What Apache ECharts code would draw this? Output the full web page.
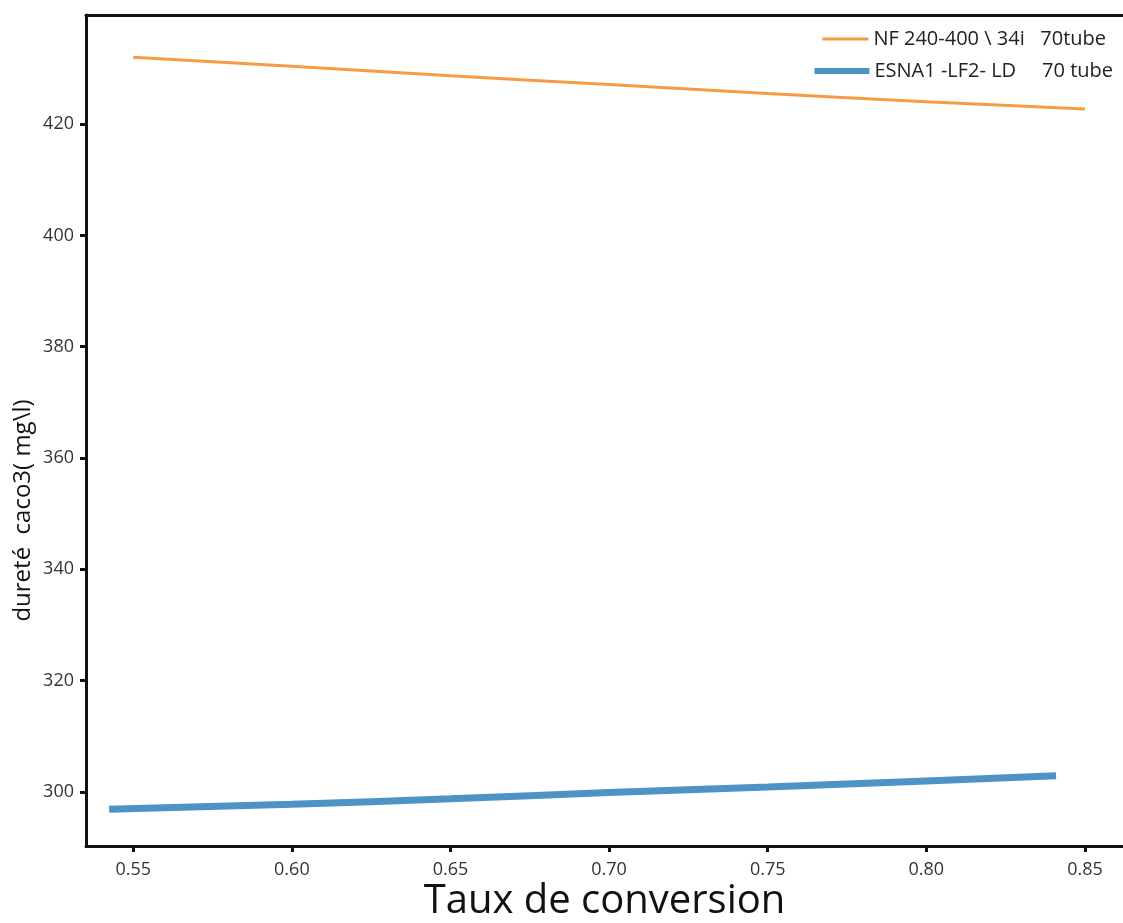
<!DOCTYPE html>
<html>
<head>
<meta charset="utf-8">
<script src="https://cdn.jsdelivr.net/npm/echarts@6/dist/echarts.min.js"></script>
<style>
html,body{margin:0;padding:0;background:#fff;}
#chart{width:1123px;height:923px;}
</style>
</head>
<body>
<div id="chart"></div>
<script>
// Data
const seriesNames = ['NF 240-400 \\ 34i   70tube', 'ESNA1 -LF2- LD     70 tube'];
const nfX = [0.55, 0.60, 0.65, 0.70, 0.75, 0.80, 0.85];
const nfY = [432.0, 430.4, 428.7, 427.1, 425.5, 424.0, 422.7];
const esnaX = [0.5424, 0.60, 0.65, 0.70, 0.75, 0.80, 0.8409];
const esnaY = [296.9, 297.8, 298.8, 299.9, 300.9, 302.0, 302.9];
const xTicks = [0.55, 0.60, 0.65, 0.70, 0.75, 0.80, 0.85];
const yTicks = [300, 320, 340, 360, 380, 400, 420];
const xTitle = 'Taux de conversion';
const yTitle = 'dureté  caco3( mg\\l)';

const font = '"Open Sans", "Noto Sans", sans-serif';
const chart = echarts.init(document.getElementById('chart'), null, {renderer: 'canvas'});
chart.setOption({
  animation: false,
  backgroundColor: '#fff',
  grid: {left: 86, right: 0, top: 15, bottom: 77, show: false, containLabel: false, outerBoundsMode: 'none'},
  legend: [
    {data: [seriesNames[0]], icon: 'rect', right: 12, top: 24, itemWidth: 46, itemHeight: 3, itemGap: 8,
     textStyle: {fontFamily: font, fontSize: 20, color: '#222'}},
    {data: [seriesNames[1]], icon: 'rect', right: 5, top: 56, itemWidth: 55, itemHeight: 6, itemGap: 4,
     textStyle: {fontFamily: font, fontSize: 20, color: '#222'}}
  ],
  xAxis: [{
    type: 'value', min: 0.5351, max: 0.8620,
    name: xTitle, nameLocation: 'middle', nameGap: 36, nameMoveOverlap: false,
    nameTextStyle: {fontFamily: font, fontSize: 40, color: '#111'},
    splitLine: {show: false},
    axisLine: {show: true, lineStyle: {color: '#111', width: 3}},
    axisTick: {show: true, length: 6, lineStyle: {color: '#111', width: 3}, customValues: xTicks},
    axisLabel: {fontFamily: font, fontSize: 18, color: '#333', margin: 15, customValues: xTicks,
      formatter: v => v.toFixed(2)}
  }, {
    type: 'value', position: 'top', min: 0.5351, max: 0.8620,
    splitLine: {show: false},
    axisLine: {show: true, lineStyle: {color: '#111', width: 3}},
    axisTick: {show: false}, axisLabel: {show: false}
  }],
  yAxis: {
    type: 'value', min: 290.3, max: 439.6,
    name: yTitle, nameLocation: 'middle', nameGap: 51, nameMoveOverlap: false,
    nameTextStyle: {fontFamily: font, fontSize: 24, color: '#111', padding: [0, 160, 0, 0]},
    splitLine: {show: false},
    axisLine: {show: true, lineStyle: {color: '#111', width: 3}},
    axisTick: {show: true, length: 6, lineStyle: {color: '#111', width: 3}, customValues: yTicks},
    axisLabel: {fontFamily: font, fontSize: 18, color: '#333', margin: 12, customValues: yTicks}
  },
  series: [
    {name: seriesNames[0], type: 'line', symbol: 'none', smooth: true,
     data: nfX.map((x, i) => [x, nfY[i]]),
     lineStyle: {color: '#f69a45', width: 3}, itemStyle: {color: '#f69a45'}},
    {name: seriesNames[1], type: 'line', symbol: 'none', smooth: true,
     data: esnaX.map((x, i) => [x, esnaY[i]]),
     lineStyle: {color: '#4d93c6', width: 7}, itemStyle: {color: '#4d93c6'}}
  ]
});
</script>
</body>
</html>
